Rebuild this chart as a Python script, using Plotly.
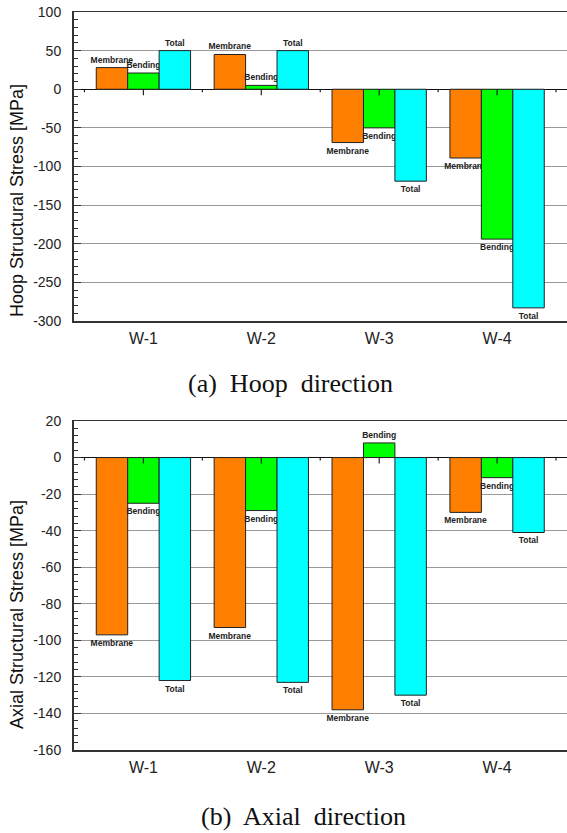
import plotly.graph_objects as go

# ---- data ----
categories = ["W-1", "W-2", "W-3", "W-4"]
series_names = ["Membrane", "Bending", "Total"]
series_colors = ["#FF8000", "#00FF00", "#00FFFF"]

hoop_membrane = [28, 45, -69, -89]
hoop_bending = [21, 5, -50, -194]
hoop_total = [50, 50, -119, -283]

axial_membrane = [-97, -93, -138, -30]
axial_bending = [-25, -29, 8, -11]
axial_total = [-122, -123, -130, -41]

hoop_ticks = [100, 50, 0, -50, -100, -150, -200, -250, -300]
axial_ticks = [20, 0, -20, -40, -60, -80, -100, -120, -140, -160]

hoop_title = "Hoop Structural Stress [MPa]"
axial_title = "Axial Structural Stress [MPa]"
caption_a = "(a)\u00a0 Hoop\u00a0 direction"
caption_b = "(b)\u00a0 Axial\u00a0 direction"

W, H = 567, 833
SANS = "Liberation Sans, Arial, sans-serif"
SERIF = "Liberation Serif, Times New Roman, serif"

fig = go.Figure()

def add_group(values_list, xa, ya):
    for name, vals, col in zip(series_names, values_list, series_colors):
        fig.add_trace(go.Bar(
            x=list(range(len(categories))), y=vals, name=name,
            xaxis=xa, yaxis=ya,
            text=[name] * len(vals), textposition="outside",
            cliponaxis=False, constraintext="none",
            textfont=dict(size=8.5, family=SANS, color="#222", weight="bold"),
            marker=dict(color=col, line=dict(color="#222", width=1)),
            showlegend=False, hoverinfo="skip",
        ))

add_group([hoop_membrane, hoop_bending, hoop_total], "x", "y")
add_group([axial_membrane, axial_bending, axial_total], "x2", "y2")

xr = [-0.593, 3.593]

def xaxis_cfg(anchor):
    return dict(
        domain=[73.5 / W, 1], range=xr, anchor=anchor, automargin=False,
        tickmode="array", tickvals=list(range(len(categories))), ticktext=categories,
        ticks="", showgrid=False, zeroline=False,
        showline=True, mirror=True, linecolor="#333", linewidth=1.5,
        tickfont=dict(size=16, family=SANS, color="#222"),
        ticklabelstandoff=2,
    )

def yaxis_cfg(dom, rng, ticks, mdtick, anchor):
    return dict(
        domain=dom, range=rng, anchor=anchor, automargin=False,
        tickmode="array", tickvals=ticks, ticktext=[str(t) for t in ticks],
        ticks="inside", ticklen=7, tickcolor="#333", tickwidth=1,
        minor=dict(dtick=mdtick, ticks="inside", ticklen=4, tickcolor="#333", showgrid=False),
        showgrid=True, gridcolor="#999", gridwidth=1,
        zeroline=True, zerolinecolor="#111", zerolinewidth=1.5,
        showline=True, linecolor="#333", linewidth=1.5,
        tickfont=dict(size=14, family=SANS, color="#222"),
        ticklabelstandoff=8,
    )

fig.update_layout(
    width=W, height=H, margin=dict(l=0, r=0, t=0, b=0, autoexpand=False),
    paper_bgcolor="white", plot_bgcolor="white",
    barmode="group", bargap=0.2, bargroupgap=0,
    xaxis=xaxis_cfg("y"),
    yaxis=yaxis_cfg([1 - 321 / H, 1 - 12 / H], [-300, 100], hoop_ticks, 10, "x"),
    xaxis2=xaxis_cfg("y2"),
    yaxis2=yaxis_cfg([1 - 750 / H, 1 - 421 / H], [-160, 20], axial_ticks, 4, "x2"),
)

# category ticks on the zero line
shapes = []
for xa, ya in (("x", "y"), ("x2", "y2")):
    for i in range(len(categories)):
        shapes.append(dict(type="line", xref=xa, yref=ya, x0=i, x1=i,
                           ysizemode="pixel", yanchor=0, y0=0, y1=-6,
                           line=dict(color="#222", width=1.2)))
    for i in range(len(categories) + 1):
        shapes.append(dict(type="line", xref=xa, yref=ya, x0=i - 0.5, x1=i - 0.5,
                           ysizemode="pixel", yanchor=0, y0=0, y1=-3,
                           line=dict(color="#222", width=1.2)))
fig.update_layout(shapes=shapes)

annotations = [
    dict(text=hoop_title, xref="paper", yref="paper", x=17 / W, y=1 - 201 / H,
         xanchor="center", yanchor="middle",
         textangle=-90, showarrow=False, font=dict(size=18, family=SANS, color="#111")),
    dict(text=axial_title, xref="paper", yref="paper", x=17 / W, y=1 - 615 / H,
         xanchor="center", yanchor="middle",
         textangle=-90, showarrow=False, font=dict(size=18, family=SANS, color="#111")),
    dict(text=caption_a, xref="paper", yref="paper", x=290 / W, y=1 - 383 / H,
         xanchor="center", yanchor="middle",
         showarrow=False, font=dict(size=26, family=SERIF, color="#111")),
    dict(text=caption_b, xref="paper", yref="paper", x=303 / W, y=1 - 816 / H,
         xanchor="center", yanchor="middle",
         showarrow=False, font=dict(size=26, family=SERIF, color="#111")),
]
fig.update_layout(annotations=annotations)

fig.write_html(
    "out.html",
    config={"displayModeBar": False, "staticPlot": True},
    post_script="document.body.style.margin='0';document.body.style.overflow='hidden';",
)
